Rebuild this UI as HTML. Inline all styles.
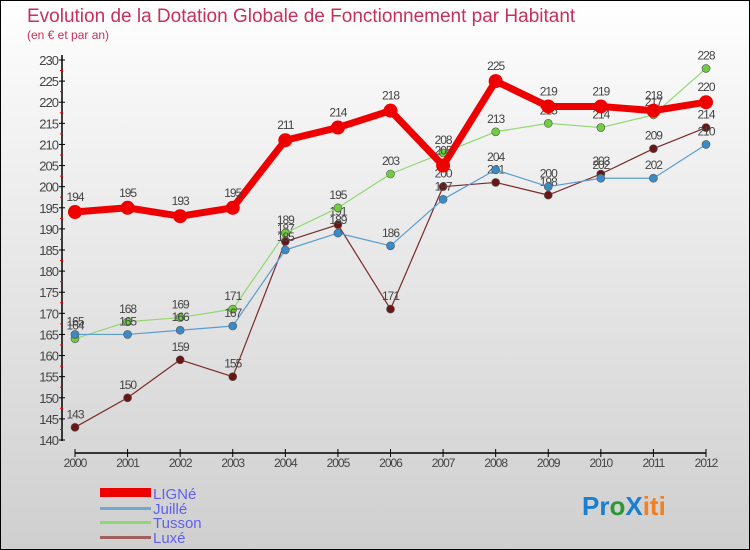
<!DOCTYPE html>
<html><head><meta charset="utf-8"><style>
html,body{margin:0;padding:0}
body{width:750px;height:550px;overflow:hidden;font-family:"Liberation Sans",sans-serif}
#c{position:absolute;left:0;top:0;width:748px;height:548px;border:1px solid #000;background:linear-gradient(#ffffff,#f4f4f4 20%,#cfcfcf)}
</style></head><body>
<div id="c">
<svg id="s" width="750" height="550" style="position:absolute;left:-1px;top:-1px">
<text x="27" y="22" font-size="19" fill="#c8305c">Evolution de la Dotation Globale de Fonctionnement par Habitant</text>
<text x="27" y="39" font-size="12" fill="#c8305c">(en € et par an)</text>
<g id="ax"></g><g id="series"></g>
<g>
<rect x="100" y="488" width="51" height="9" fill="#ee0000"/>
<text x="153" y="499" font-size="15" fill="#6060ee">LIGNé</text>
<rect x="100" y="507" width="51" height="3" fill="#6fa8d0"/>
<text x="153" y="514" font-size="15" fill="#6060ee">Juillé</text>
<rect x="100" y="521" width="51" height="3" fill="#90d870"/>
<text x="153" y="528" font-size="15" fill="#6060ee">Tusson</text>
<rect x="100" y="536" width="51" height="3" fill="#a06060"/>
<text x="153" y="543" font-size="15" fill="#6060ee">Luxé</text>
</g>
<text x="582" y="515" font-size="26" font-weight="bold"><tspan fill="#1a7fd0">Pr</tspan><tspan fill="#2a9a30">o</tspan><tspan fill="#1a7fd0">X</tspan><tspan fill="#f08020">iti</tspan></text>
</svg></div>
<script>
const years=["2000","2001","2002","2003","2004","2005","2006","2007","2008","2009","2010","2011","2012"];
const yTicks=[140,145,150,155,160,165,170,175,180,185,190,195,200,205,210,215,220,225,230];
const ligne=[194,195,193,195,211,214,218,205,225,219,219,218,220];
const juille=[165,165,166,167,185,189,186,197,204,200,202,202,210];
const tusson=[164,168,169,171,189,195,203,208,213,215,214,217,228];
const luxe=[143,150,159,155,187,191,171,200,201,198,203,209,214];
const NS="http://www.w3.org/2000/svg";
const X=i=>75+i*(706-75)/12;
const Y=v=>60+(230-v)*380/90;
function mk(t,a,p){const e=document.createElementNS(NS,t);for(const k in a)e.setAttribute(k,a[k]);p.appendChild(e);return e;}
const ax=document.getElementById('ax');
mk('line',{x1:62,y1:55,x2:62,y2:441,stroke:'#000','stroke-width':1.5},ax);
mk('line',{x1:75,y1:453,x2:706,y2:453,stroke:'#000','stroke-width':1.5},ax);
yTicks.forEach(v=>{
 mk('line',{x1:59,y1:Y(v),x2:65,y2:Y(v),stroke:'#000'},ax);
 if(v<230)mk('line',{x1:60,y1:Y(v+2.5),x2:63,y2:Y(v+2.5),stroke:'#e00'},ax);
 const t=mk('text',{x:58,y:Y(v)+5,'font-size':13,fill:'#444','text-anchor':'end','letter-spacing':'-1'},ax);
 
 
 t.textContent=v;
});
years.forEach((y,i)=>{
 mk('line',{x1:X(i),y1:449,x2:X(i),y2:457,stroke:'#000'},ax);
 const t=mk('text',{x:X(i),y:467,'font-size':12,fill:'#444','text-anchor':'middle','letter-spacing':'-1'},ax);
 
 
 t.textContent=y;
});
const sg=document.getElementById('series');
function series(name,data,color,dot,w,r){
 const g=mk('g',{},sg);
 
 
 mk('polyline',{points:data.map((v,i)=>X(i)+','+Y(v)).join(' '),fill:'none',stroke:color,'stroke-width':w,'stroke-linejoin':'round'},g);
 data.forEach((v,i)=>{
  const c=mk('circle',{cx:X(i),cy:Y(v),r:r,fill:dot,stroke:'#555','stroke-width':r>5?0:0.6},g);
  
  
  const t=mk('text',{x:X(i),y:Y(v)-(r>5?11:9),'font-size':12,fill:'#444','text-anchor':'middle','letter-spacing':'-1'},g);
  
  
  t.textContent=v;
 });
}
series('luxe',luxe,'#7a2a2a','#6a1616',1.2,4);
series('tusson',tusson,'#90d870','#70cc40',1.2,4);
series('juille',juille,'#5a9ed0','#3a8ac8',1.2,4);
series('ligne',ligne,'#ee0000','#ee0000',7,7);
</script>
</body></html>
